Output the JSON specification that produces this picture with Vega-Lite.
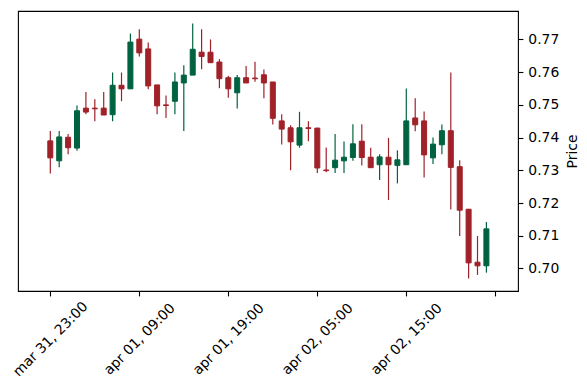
{
  "$schema": "https://vega.github.io/schema/vega-lite/v6.json",
  "width": 500,
  "height": 280,
  "autosize": {"type": "none"},
  "padding": {"left": 18, "top": 11, "right": 69, "bottom": 99},
  "background": "white",
  "config": {
    "view": {"stroke": "black", "strokeWidth": 1.1},
    "font": "DejaVu Sans",
    "axis": {
      "labelFont": "DejaVu Sans",
      "titleFont": "DejaVu Sans",
      "labelFontSize": 13.9,
      "titleFontSize": 13.9,
      "titleFontWeight": "normal",
      "labelColor": "black",
      "titleColor": "black",
      "tickColor": "black",
      "tickWidth": 1.1,
      "tickSize": 4.9,
      "grid": false,
      "domain": false
    }
  },
  "data": {
    "values": [
      {"i": 0, "o": 0.7390, "h": 0.7420, "l": 0.7290, "c": 0.7338},
      {"i": 1, "o": 0.7329, "h": 0.7420, "l": 0.7309, "c": 0.7402},
      {"i": 2, "o": 0.7401, "h": 0.7411, "l": 0.7349, "c": 0.7369},
      {"i": 3, "o": 0.7368, "h": 0.7498, "l": 0.7360, "c": 0.7482},
      {"i": 4, "o": 0.7490, "h": 0.7539, "l": 0.7471, "c": 0.7478},
      {"i": 5, "o": 0.7490, "h": 0.7517, "l": 0.7450, "c": 0.7488},
      {"i": 6, "o": 0.7490, "h": 0.7539, "l": 0.7469, "c": 0.7469},
      {"i": 7, "o": 0.7470, "h": 0.7599, "l": 0.7450, "c": 0.7560},
      {"i": 8, "o": 0.7560, "h": 0.7599, "l": 0.7511, "c": 0.7549},
      {"i": 9, "o": 0.7549, "h": 0.7718, "l": 0.7549, "c": 0.7692},
      {"i": 10, "o": 0.7701, "h": 0.7731, "l": 0.7648, "c": 0.7659},
      {"i": 11, "o": 0.7671, "h": 0.7691, "l": 0.7548, "c": 0.7558},
      {"i": 12, "o": 0.7561, "h": 0.7561, "l": 0.7471, "c": 0.7497},
      {"i": 13, "o": 0.7500, "h": 0.7529, "l": 0.7460, "c": 0.7498},
      {"i": 14, "o": 0.7511, "h": 0.7599, "l": 0.7471, "c": 0.7570},
      {"i": 15, "o": 0.7567, "h": 0.7621, "l": 0.7420, "c": 0.7591},
      {"i": 16, "o": 0.7591, "h": 0.7749, "l": 0.7591, "c": 0.7670},
      {"i": 17, "o": 0.7661, "h": 0.7731, "l": 0.7609, "c": 0.7648},
      {"i": 18, "o": 0.7661, "h": 0.7700, "l": 0.7629, "c": 0.7629},
      {"i": 19, "o": 0.7631, "h": 0.7640, "l": 0.7551, "c": 0.7580},
      {"i": 20, "o": 0.7583, "h": 0.7589, "l": 0.7522, "c": 0.7549},
      {"i": 21, "o": 0.7537, "h": 0.7591, "l": 0.7489, "c": 0.7583},
      {"i": 22, "o": 0.7583, "h": 0.7619, "l": 0.7567, "c": 0.7567},
      {"i": 23, "o": 0.7582, "h": 0.7632, "l": 0.7571, "c": 0.7580},
      {"i": 24, "o": 0.7592, "h": 0.7608, "l": 0.7520, "c": 0.7567},
      {"i": 25, "o": 0.7570, "h": 0.7570, "l": 0.7440, "c": 0.7459},
      {"i": 26, "o": 0.7451, "h": 0.7471, "l": 0.7379, "c": 0.7426},
      {"i": 27, "o": 0.7430, "h": 0.7438, "l": 0.7300, "c": 0.7387},
      {"i": 28, "o": 0.7377, "h": 0.7479, "l": 0.7369, "c": 0.7430},
      {"i": 29, "o": 0.7430, "h": 0.7450, "l": 0.7389, "c": 0.7428},
      {"i": 30, "o": 0.7429, "h": 0.7430, "l": 0.7292, "c": 0.7307},
      {"i": 31, "o": 0.7301, "h": 0.7370, "l": 0.7294, "c": 0.7299},
      {"i": 32, "o": 0.7308, "h": 0.7411, "l": 0.7292, "c": 0.7331},
      {"i": 33, "o": 0.7329, "h": 0.7388, "l": 0.7292, "c": 0.7340},
      {"i": 34, "o": 0.7339, "h": 0.7441, "l": 0.7329, "c": 0.7381},
      {"i": 35, "o": 0.7389, "h": 0.7441, "l": 0.7315, "c": 0.7339},
      {"i": 36, "o": 0.7340, "h": 0.7369, "l": 0.7308, "c": 0.7308},
      {"i": 37, "o": 0.7317, "h": 0.7349, "l": 0.7270, "c": 0.7341},
      {"i": 38, "o": 0.7340, "h": 0.7399, "l": 0.7209, "c": 0.7317},
      {"i": 39, "o": 0.7315, "h": 0.7361, "l": 0.7260, "c": 0.7332},
      {"i": 40, "o": 0.7317, "h": 0.7550, "l": 0.7317, "c": 0.7451},
      {"i": 41, "o": 0.7460, "h": 0.7520, "l": 0.7419, "c": 0.7439},
      {"i": 42, "o": 0.7451, "h": 0.7480, "l": 0.7278, "c": 0.7347},
      {"i": 43, "o": 0.7338, "h": 0.7400, "l": 0.7319, "c": 0.7380},
      {"i": 44, "o": 0.7378, "h": 0.7440, "l": 0.7349, "c": 0.7421},
      {"i": 45, "o": 0.7421, "h": 0.7599, "l": 0.7180, "c": 0.7309},
      {"i": 46, "o": 0.7311, "h": 0.7331, "l": 0.7099, "c": 0.7178},
      {"i": 47, "o": 0.7181, "h": 0.7181, "l": 0.6969, "c": 0.7017},
      {"i": 48, "o": 0.7019, "h": 0.7099, "l": 0.6980, "c": 0.7008},
      {"i": 49, "o": 0.7008, "h": 0.7142, "l": 0.6987, "c": 0.7121}
    ]
  },
  "encoding": {
    "x": {
      "field": "i",
      "type": "quantitative",
      "scale": {"domain": [-3.63, 52.55], "nice": false, "zero": false, "padding": 0},
      "axis": {
        "values": [0, 10, 20, 30, 40, 50],
        "labelExpr": "datum.value == 0 ? 'mar 31, 23:00' : datum.value == 10 ? 'apr 01, 09:00' : datum.value == 20 ? 'apr 01, 19:00' : datum.value == 30 ? 'apr 02, 05:00' : datum.value == 40 ? 'apr 02, 15:00' : ''",
        "labelAngle": -45,
        "labelAlign": "center",
        "labelBaseline": "middle",
        "labelPadding": 43,
        "labelOverlap": false,
        "labelFlush": false,
        "labelBound": false,
        "title": null
      }
    },
    "y": {
      "field": "l",
      "type": "quantitative",
      "scale": {"domain": [0.6931, 0.7787], "nice": false, "zero": false, "padding": 0},
      "axis": {
        "orient": "right",
        "values": [0.70, 0.71, 0.72, 0.73, 0.74, 0.75, 0.76, 0.77],
        "format": ".2f",
        "labelPadding": 4.9,
        "title": "Price",
        "titleAngle": 270,
        "titleBaseline": "top",
        "titlePadding": 7
      }
    },
    "color": {"condition": {"test": "datum.c >= datum.o", "value": "#006340"}, "value": "#a02128"}
  },
  "layer": [
    {
      "mark": {"type": "rule", "strokeWidth": 1.2},
      "encoding": {
        "y2": {"field": "h"}
      }
    },
    {
      "mark": {"type": "bar", "width": 5, "strokeWidth": 1},
      "encoding": {
        "y": {
          "field": "o",
          "type": "quantitative",
          "axis": {
            "orient": "right",
            "values": [0.70, 0.71, 0.72, 0.73, 0.74, 0.75, 0.76, 0.77],
            "format": ".2f",
            "labelPadding": 4.9,
            "title": "Price",
            "titleAngle": 270,
            "titleBaseline": "top",
            "titlePadding": 7
          }
        },
        "y2": {"field": "c"},
        "stroke": {"condition": {"test": "datum.c >= datum.o", "value": "#006340"}, "value": "#a02128"}
      }
    }
  ]
}
